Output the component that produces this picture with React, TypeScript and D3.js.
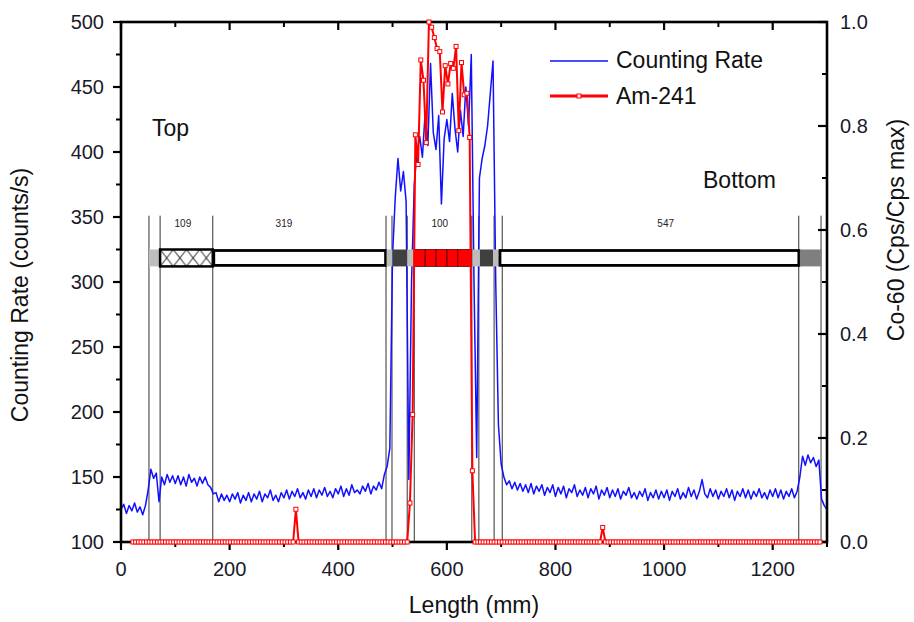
import React from 'react';
import * as d3 from 'd3';

// Counting rate (counts/s), sampled every 5 mm from 0 to 1300 mm
const countingRateStepMm = 5;
const countingRate = [
  125, 129, 122, 128, 124, 130, 123, 127, 121, 128,
  140, 156, 149, 153, 131, 150, 144, 152, 146, 151,
  145, 151, 144, 150, 143, 152, 146, 149, 143, 150,
  145, 150, 144, 142, 137, 138, 131, 137, 132, 136,
  131, 137, 133, 138, 130, 136, 132, 138, 131, 137,
  133, 139, 131, 137, 134, 140, 132, 136, 131, 138,
  134, 140, 133, 139, 135, 141, 134, 138, 133, 140,
  135, 141, 134, 140, 136, 142, 135, 139, 134, 141,
  137, 143, 135, 141, 136, 144, 138, 140, 137, 143,
  139, 145, 137, 143, 140, 146, 141, 152, 158, 172,
  320, 365, 395, 370, 385, 362, 148, 300, 375, 400,
  412, 396, 430, 405, 468, 415, 402, 428, 360, 410,
  425, 408, 445, 418, 400, 432, 412, 450, 420, 475,
  300, 165, 380, 395, 405, 420, 445, 470, 300, 190,
  160, 150, 144, 147, 141, 146, 140, 145, 139, 144,
  138, 145, 137, 143, 139, 144, 136, 142, 138, 144,
  135, 142, 137, 143, 134, 141, 138, 144, 135, 140,
  136, 142, 134, 141, 137, 143, 133, 140, 136, 142,
  134, 140, 135, 141, 133, 139, 136, 142, 134, 138,
  133, 139, 135, 141, 132, 138, 134, 140, 133, 139,
  134, 140, 132, 139, 135, 141, 133, 138, 134, 142,
  135, 140, 133, 139, 148, 137, 134, 141, 135, 140,
  133, 139, 135, 141, 134, 140, 132, 139, 135, 141,
  134, 140, 133, 139, 135, 141, 134, 138, 133, 140,
  135, 141, 134, 140, 133, 139, 135, 141, 134, 139,
  150, 166, 159, 167, 161, 165, 158, 163, 133, 128,
  125,
];

// Am-241 (Cps/Cps max) sample positions (mm) and the non-zero readings
const amPositions = d3.range(22, 1288, 5);
const amNonZero: [number, number][] = [
  [322, 0.063],
  [532, 0.075], [537, 0.245], [542, 0.783], [547, 0.726], [552, 0.927],
  [557, 0.888], [562, 0.768], [567, 1.0], [572, 0.99], [577, 0.97],
  [582, 0.949], [587, 0.943], [592, 0.827], [597, 0.916], [602, 0.881],
  [607, 0.92], [612, 0.911], [617, 0.953], [622, 0.791], [627, 0.922],
  [632, 0.86], [637, 0.863], [642, 0.778], [647, 0.137],
  [887, 0.028],
];

const xMajorTicks = [0, 200, 400, 600, 800, 1000, 1200];
const xMinorTicks = [100, 300, 500, 700, 900, 1100, 1300];
const leftMajorTicks = [100, 150, 200, 250, 300, 350, 400, 450, 500];
const leftMinorTicks = [125, 175, 225, 275, 325, 375, 425, 475];
const rightMajorTicks = [0, 0.2, 0.4, 0.6, 0.8, 1.0];
const rightMinorTicks = [0.1, 0.3, 0.5, 0.7, 0.9];

// Schematic of the sample column (mm)
const schematicSegments = [
  { from: 51.5, to: 72, kind: 'light' },
  { from: 72, to: 169, kind: 'hatch' },
  { from: 169, to: 489, kind: 'box' },
  { from: 489, to: 500, kind: 'light' },
  { from: 500, to: 527, kind: 'dark' },
  { from: 527, to: 540, kind: 'light' },
  { from: 540, to: 646, kind: 'red' },
  { from: 646, to: 661, kind: 'light' },
  { from: 661, to: 685, kind: 'dark' },
  { from: 685, to: 696, kind: 'light' },
  { from: 696, to: 1250, kind: 'box' },
  { from: 1250, to: 1290, kind: 'mid' },
];
const redCellEdges = [540, 560, 580, 600, 620, 646];
const sectionLabels = [
  { at: 114, text: '109' },
  { at: 300, text: '319' },
  { at: 587, text: '100' },
  { at: 1003, text: '547' },
];
const dividers = [51.5, 72, 169, 488, 499, 527, 540, 646, 659, 687, 702, 1248, 1289];

const W = 914;
const H = 622;
const L = 121, R = 827, T = 22, B = 542;
const FONT = '"Liberation Sans", Arial, sans-serif';

export default function App() {
  const x = d3.scaleLinear().domain([0, 1300]).range([L, R]);
  const yL = d3.scaleLinear().domain([100, 500]).range([B, T]);
  const yR = d3.scaleLinear().domain([0, 1]).range([B, T]);

  const blue = countingRate.map((v, i) => [i * countingRateStepMm, v] as [number, number]);
  const peakMap = new Map(amNonZero.map(([p, v]) => [p, v]));
  const am = amPositions.map((p) => [p, peakMap.get(p) ?? 0] as [number, number]);

  const blueLine = d3.line<[number, number]>().x((d) => x(d[0])).y((d) => yL(d[1]));
  const redLine = d3.line<[number, number]>().x((d) => x(d[0])).y((d) => yR(d[1]));

  const barTop = yL(325);
  const barBot = yL(312);
  const divTop = yL(351);
  const hatchStart = x(72);

  return (
    <svg width={W} height={H} style={{ position: 'absolute', left: 0, top: 0, background: '#fff' }} fontFamily={FONT}>
      <defs>
        <clipPath id="plot">
          <rect x={L} y={T} width={R - L} height={B - T} />
        </clipPath>
        <pattern id="hatch" patternUnits="userSpaceOnUse" x={hatchStart} y={barTop} width={13.2} height={barBot - barTop}>
          <rect width={13.2} height={barBot - barTop} fill="#fff" />
          <line x1={0} y1={0} x2={13.2} y2={barBot - barTop} stroke="#333" strokeWidth={1} />
          <line x1={0} y1={barBot - barTop} x2={13.2} y2={0} stroke="#333" strokeWidth={1} />
        </pattern>
      </defs>

      {/* divider lines */}
      {dividers.map((d, i) => (
        <line key={'dv' + i} x1={x(d)} x2={x(d)} y1={divTop} y2={B} stroke="#333" strokeWidth={1} />
      ))}

      {/* counting rate */}
      <path d={blueLine(blue) || ''} fill="none" stroke="#1010ff" strokeWidth={1.5} strokeLinejoin="round" clipPath="url(#plot)" />

      {/* schematic */}
      {schematicSegments.map((s, i) => {
        const x0 = x(s.from), x1 = x(s.to);
        const h = barBot - barTop;
        if (s.kind === 'light') return <rect key={'sg' + i} x={x0} y={barTop} width={x1 - x0} height={h} fill="#bdbdbd" />;
        if (s.kind === 'dark') return <rect key={'sg' + i} x={x0} y={barTop} width={x1 - x0} height={h} fill="#404040" />;
        if (s.kind === 'mid') return <rect key={'sg' + i} x={x0} y={barTop} width={x1 - x0} height={h} fill="#7f7f7f" />;
        if (s.kind === 'red') return <rect key={'sg' + i} x={x0} y={barTop} width={x1 - x0} height={h} fill="#ff0000" />;
        if (s.kind === 'hatch')
          return <rect key={'sg' + i} x={x0} y={barTop} width={x1 - x0} height={h} fill="url(#hatch)" stroke="#000" strokeWidth={2.5} />;
        return <rect key={'sg' + i} x={x0 + 1} y={barTop + 1} width={x1 - x0 - 2} height={h - 2} fill="#fff" stroke="#000" strokeWidth={2.8} />;
      })}
      {redCellEdges.slice(0, -1).map((e, i) => (
        <rect key={'rc' + i} x={x(e)} y={barTop} width={x(redCellEdges[i + 1]) - x(e)} height={barBot - barTop} fill="none" stroke="#600" strokeWidth={0.8} />
      ))}
      {sectionLabels.map((s, i) => (
        <text key={'sl' + i} x={x(s.at)} y={yL(342)} fontSize={10} textAnchor="middle" fill="#222">{s.text}</text>
      ))}

      {/* axes frame */}
      <rect x={L} y={T} width={R - L} height={B - T} fill="none" stroke="#000" strokeWidth={2.6} />

      {/* bottom & top ticks */}
      {xMajorTicks.map((t) => (
        <g key={'xm' + t}>
          <line x1={x(t)} x2={x(t)} y1={B} y2={B + 8} stroke="#000" strokeWidth={2.2} />
          <line x1={x(t)} x2={x(t)} y1={T} y2={T + 8} stroke="#000" strokeWidth={2.2} />
          <text x={x(t)} y={576} fontSize={20} textAnchor="middle" fill="#1a1a2a">{t}</text>
        </g>
      ))}
      {xMinorTicks.map((t) => (
        <g key={'xn' + t}>
          <line x1={x(t)} x2={x(t)} y1={B} y2={B + 5} stroke="#000" strokeWidth={2} />
          <line x1={x(t)} x2={x(t)} y1={T} y2={T + 5} stroke="#000" strokeWidth={2} />
        </g>
      ))}

      {/* left ticks */}
      {leftMajorTicks.map((t) => (
        <g key={'lm' + t}>
          <line x1={L - 8} x2={L} y1={yL(t)} y2={yL(t)} stroke="#000" strokeWidth={2.2} />
          <text x={104} y={yL(t)} dy="0.35em" fontSize={20} textAnchor="end" fill="#1a1a2a">{t}</text>
        </g>
      ))}
      {leftMinorTicks.map((t) => (
        <line key={'ln' + t} x1={L - 5} x2={L} y1={yL(t)} y2={yL(t)} stroke="#000" strokeWidth={2} />
      ))}

      {/* right ticks */}
      {rightMajorTicks.map((t) => (
        <g key={'rm' + t}>
          <line x1={R - 9} x2={R} y1={yR(t)} y2={yR(t)} stroke="#000" strokeWidth={2.2} />
          <text x={840} y={yR(t)} dy="0.35em" fontSize={20} textAnchor="start" fill="#1a1a2a">{t.toFixed(1)}</text>
        </g>
      ))}
      {rightMinorTicks.map((t) => (
        <line key={'rn' + t} x1={R - 5} x2={R} y1={yR(t)} y2={yR(t)} stroke="#000" strokeWidth={2} />
      ))}

      {/* Am-241 */}
      <path d={redLine(am) || ''} fill="none" stroke="#ff0000" strokeWidth={2} clipPath="url(#plot)" />
      {am.map((d, i) => (
        <rect key={'am' + i} x={x(d[0]) - 2} y={yR(d[1]) - 2} width={4} height={4} fill="#fff" stroke="#ff0000" strokeWidth={1} />
      ))}

      {/* annotations */}
      <text x={152} y={136} fontSize={23} fill="#111">Top</text>
      <text x={703} y={188} fontSize={23} fill="#111">Bottom</text>

      {/* legend */}
      <line x1={550} x2={608} y1={61} y2={61} stroke="#1010ff" strokeWidth={1.3} />
      <text x={616} y={68} fontSize={23} fill="#111">Counting Rate</text>
      <line x1={550} x2={608} y1={96} y2={96} stroke="#ff0000" strokeWidth={3} />
      <rect x={577} y={94} width={4} height={4} fill="#fff" stroke="#ff0000" strokeWidth={1} />
      <text x={616} y={104} fontSize={23} fill="#111">Am-241</text>

      {/* axis titles */}
      <text x={474} y={613} fontSize={23} textAnchor="middle" fill="#111">Length (mm)</text>
      <text transform={`translate(28, 295) rotate(-90)`} fontSize={23} textAnchor="middle" fill="#111">Counting Rate (counts/s)</text>
      <text transform={`translate(904, 230) rotate(-90)`} fontSize={23} textAnchor="middle" fill="#111">Co-60 (Cps/Cps max)</text>
    </svg>
  );
}
